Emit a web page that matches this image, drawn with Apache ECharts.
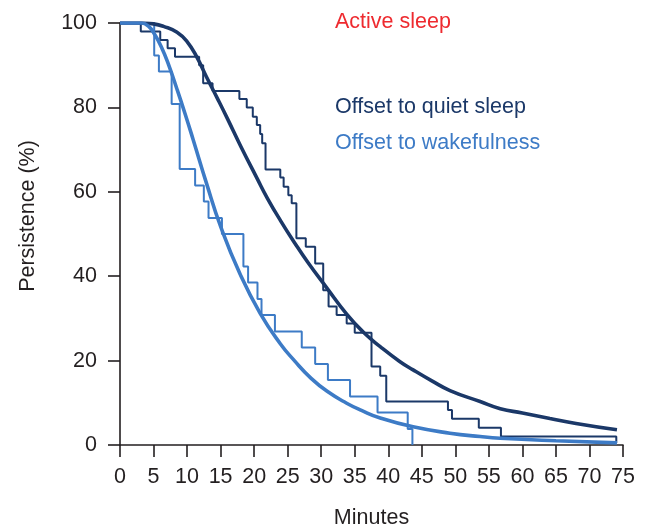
<!DOCTYPE html>
<html>
<head>
<meta charset="utf-8">
<script src="https://cdn.jsdelivr.net/npm/echarts@6/dist/echarts.min.js"></script>
<style>
html,body{margin:0;padding:0;background:#fff;}
#chart{width:647px;height:529px;}
</style>
</head>
<body>
<div id="chart"></div>
<script>
// Kaplan-Meier steps: time (min) of each drop and persistence (%) after it
const quietStepTimes  = [0, 3.1, 6.0, 7.1, 8.2, 11.8, 12.4, 13.8, 17.8, 18.9, 19.8, 20.4, 20.9, 21.2, 21.7, 23.9, 24.4, 25.1, 25.6, 26.3, 27.7, 29.1, 30.3, 31.1, 32.3, 33.8, 35.0, 37.5, 38.8, 39.7, 48.9, 49.5, 53.5, 56.8, 74.0];
const quietStepValues = [100, 98, 96, 94, 92, 90, 85.7, 83.9, 82, 80, 77.8, 75.8, 73.7, 71.5, 65.3, 63.4, 61.2, 59.2, 57.3, 49, 47, 43, 36.7, 32.8, 30.8, 28.8, 26.6, 18.6, 16.4, 10.3, 8.3, 6.2, 4.1, 2, 0.5];

const wakeStepTimes  = [0, 5.1, 5.8, 7.7, 8.9, 11.2, 12.5, 13.2, 15.2, 18.4, 19.1, 20.5, 21.1, 23.1, 27.1, 29.1, 31.0, 34.3, 38.4, 42.9, 43.6];
const wakeStepValues = [100, 92.3, 88.5, 80.8, 65.4, 61.5, 57.7, 53.8, 50, 42.3, 38.5, 34.6, 30.8, 26.9, 23.1, 19.2, 15.4, 11.5, 7.7, 3.8, 0];

// Fitted curves
const quietFitTimes  = [0, 3.2, 5, 6.5, 8.5, 10, 11.5, 12.9, 14.5, 16, 18, 20.4, 22, 24, 26, 28, 30.8, 33.8, 36.3, 38.8, 41.7, 43.7, 46.5, 49.2, 53.7, 56.7, 60, 64.1, 68, 74.1];
const quietFitValues = [100, 100, 99.8, 99.2, 97.8, 95.6, 91.8, 87.2, 82.2, 77.4, 70.8, 63.3, 58.4, 53, 48, 43.3, 37.3, 31, 26.7, 23.3, 19.8, 17.8, 15.2, 12.9, 10.3, 8.6, 7.6, 6.3, 5.1, 3.6];

const wakeFitTimes  = [0, 3.2, 4.2, 5.2, 6.2, 7.2, 8.5, 9.7, 10.9, 12.9, 15, 17.9, 20.9, 23.9, 26, 28.5, 31, 33.8, 36, 38.8, 43.7, 49.2, 53.7, 56.7, 65, 74.1];
const wakeFitValues = [100, 100, 99.3, 97.2, 94.2, 90.3, 84.3, 78.5, 72.4, 62, 51.8, 40.5, 31.2, 24, 20, 15.8, 12.6, 9.9, 8.2, 6.4, 4.3, 2.8, 2, 1.6, 1, 0.5];

const labels = ['Active sleep', 'Offset to quiet sleep', 'Offset to wakefulness'];
const xTitle = 'Minutes';
const yTitle = 'Persistence (%)';

const DARK = '#1b3868';
const LIGHT = '#3d7bc6';
const RED = '#ee2a2f';
const AXIS = '#231f20';
const FONT = 'Liberation Sans';
const FS = 21.5;

function pairs(xs, ys){ return xs.map((x,i)=>[x, ys[i]]); }

const chart = echarts.init(document.getElementById('chart'));
chart.setOption({
  animation: false,
  grid: {left: 120, right: 24, top: 23, bottom: 84, containLabel: false, outerBoundsMode: 'none'},
  xAxis: {
    type: 'value', min: 0, max: 75, interval: 5,
    name: xTitle, nameLocation: 'middle', nameGap: 62,
    nameTextStyle: {fontFamily: FONT, fontSize: FS, color: AXIS},
    axisLine: {show: true, lineStyle: {color: AXIS, width: 1.6}},
    axisTick: {show: true, length: 12, inside: false, lineStyle: {color: AXIS, width: 1.6}},
    axisLabel: {margin: 21, fontFamily: FONT, fontSize: FS, color: AXIS},
    splitLine: {show: false}
  },
  yAxis: {
    type: 'value', min: 0, max: 100, interval: 20,
    axisLine: {show: true, lineStyle: {color: AXIS, width: 1.6}},
    axisTick: {show: true, length: 12, inside: false, lineStyle: {color: AXIS, width: 1.6}},
    axisLabel: {margin: 23, fontFamily: FONT, fontSize: FS, color: AXIS},
    splitLine: {show: false}
  },
  graphic: [
    {type: 'text', left: 335, top: 11, style: {text: labels[0], fill: RED, font: FS + 'px "Liberation Sans"'}},
    {type: 'text', left: 335, top: 96, style: {text: labels[1], fill: DARK, font: FS + 'px "Liberation Sans"'}},
    {type: 'text', left: 335, top: 132, style: {text: labels[2], fill: LIGHT, font: FS + 'px "Liberation Sans"'}},
    {type: 'text', x: 28, y: 216, rotation: Math.PI / 2,
     style: {text: yTitle, fill: AXIS, font: FS + 'px "Liberation Sans"', align: 'center', verticalAlign: 'middle'}}
  ],
  series: [
    {type: 'line', step: 'end', data: pairs(quietStepTimes, quietStepValues), showSymbol: false,
     lineStyle: {color: DARK, width: 2}, z: 2},
    {type: 'line', step: 'end', data: pairs(wakeStepTimes, wakeStepValues), showSymbol: false,
     lineStyle: {color: LIGHT, width: 2}, z: 2},
    {type: 'line', smooth: 0.5, data: pairs(quietFitTimes, quietFitValues), showSymbol: false,
     lineStyle: {color: DARK, width: 3.6}, z: 3},
    {type: 'line', smooth: 0.5, data: pairs(wakeFitTimes, wakeFitValues), showSymbol: false,
     lineStyle: {color: LIGHT, width: 3.6}, z: 3}
  ]
});
</script>
</body>
</html>
